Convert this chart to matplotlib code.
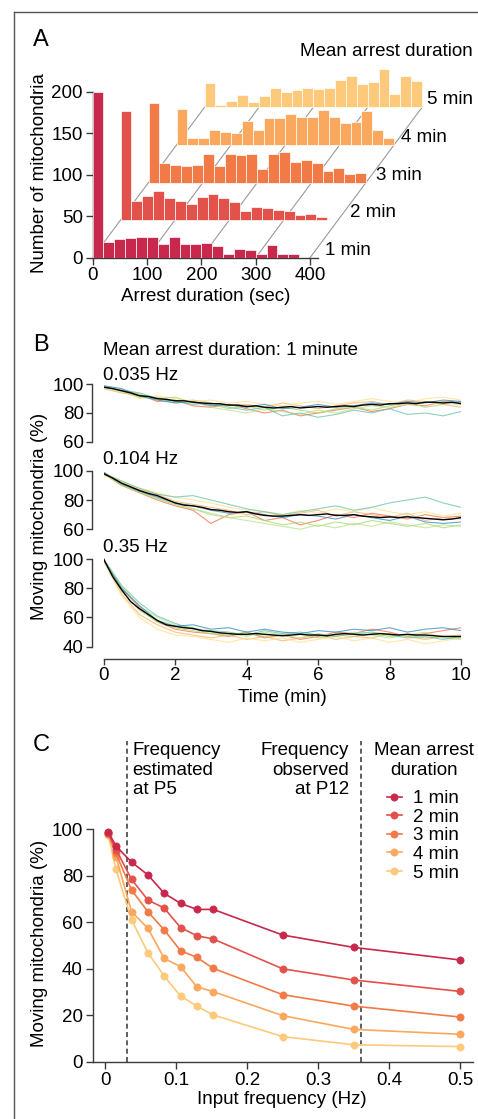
import numpy as np
import matplotlib
matplotlib.use("Agg")
import matplotlib.pyplot as plt
from matplotlib.lines import Line2D

plt.rcParams['font.family'] = ['Liberation Sans', 'DejaVu Sans']
plt.rcParams['font.size'] = 13.5

# ---------------- data ----------------
# A: arrest duration histograms (20 s bins)
bin_width = 20
rows = ['1 min', '2 min', '3 min', '4 min', '5 min']
hist_1 = [200, 19, 22, 24, 25, 25, 16, 25, 17, 17, 18, 14, 5, 11, 9, 5, 15, 4, 5]
hist_2 = [132, 23, 29.5, 34.5, 26.5, 22.5, 19.3, 27.7, 30.9, 26.5, 21.5, 11.2, 16, 15, 12, 11, 5.6, 7.2, 3.6]
hist_3 = [96.4, 24, 21.7, 20, 21.7, 34.3, 20.5, 34.5, 33.3, 34, 16.3, 34, 36.5, 25.3, 27.7, 24, 13.8, 17.7, 10, 11.2]
hist_4 = [43.4, 8.6, 8.6, 18.3, 15.7, 14, 28.7, 18.3, 32.7, 32.7, 36.8, 34, 34, 42.2, 34, 26.3, 27.7, 40.6, 18.3, 7.8]
hist_5 = [29, 2.4, 7.6, 14.5, 6.4, 13.3, 23.7, 18, 20.9, 23.7, 22.1, 23.7, 32.5, 38.2, 28.5, 30.1, 45.8, 15.7, 38.2, 31.3]

# B: moving fraction over time, mean (black) every 0.25 min
mean_035 = [98, 97, 95.5, 94, 92, 91.5, 90, 89.5, 88.5, 88.5, 87.5, 87, 86.5, 86.5, 85.5, 85.5, 84.5, 85, 84, 83.5,
            84, 84.5, 83.5, 84, 84.5, 84, 84.5, 85, 84.5, 85.5, 86, 85.5, 86.5, 86.5, 87, 86.5, 87.5, 87.5, 87, 87.5, 86.5]
mean_104 = [98, 95, 91.5, 89, 86.5, 84.5, 83, 80.5, 78, 76.5, 76, 75, 73.5, 73, 72, 71.5, 72, 70.5, 69.5, 69,
            69, 69.5, 70, 69.5, 70, 70.5, 69.5, 69.5, 70, 69, 68.5, 68, 68.5, 68, 68.5, 68, 67.5, 67, 66.5, 67, 68]
mean_35 = [100, 88, 79, 71, 66, 62, 58, 55, 54, 53, 52.5, 51, 50.5, 49.5, 49, 48.5, 48.5, 49, 48.5, 48,
           47.5, 48, 48.5, 48, 48, 47.5, 48.5, 49, 48.5, 48, 48.5, 49, 48.5, 48, 48.5, 48, 48, 47.5, 47, 47, 47]

# single runs, every 0.5 min
runs_035 = [
    [98, 96, 93, 88, 89, 85, 84, 86, 83, 80, 82, 78, 80, 82, 84, 81, 83, 86, 85, 88, 87],
    [97, 94, 92, 91, 88, 89, 87, 85, 86, 84, 87, 85, 83, 85, 87, 88, 86, 89, 88, 86, 84],
    [99, 96, 90, 92, 90, 88, 89, 87, 88, 86, 85, 87, 88, 86, 88, 90, 88, 87, 90, 91, 89],
    [98, 95, 91, 90, 91, 87, 86, 83, 85, 82, 84, 82, 80, 83, 84, 82, 85, 87, 84, 86, 88],
    [98, 95, 93, 90, 87, 88, 84, 82, 80, 83, 81, 79, 82, 80, 83, 85, 84, 86, 88, 87, 86],
    [98, 96, 94, 90, 88, 86, 87, 84, 82, 84, 78, 80, 77, 79, 82, 80, 83, 79, 80, 78, 81],
    [99, 97, 92, 89, 87, 88, 85, 86, 84, 86, 83, 84, 86, 84, 85, 87, 86, 88, 87, 89, 88],
]
runs_104 = [
    [98, 90, 85, 80, 76, 73, 64, 70, 72, 66, 68, 63, 66, 70, 68, 71, 69, 67, 70, 68, 69],
    [97, 92, 87, 84, 79, 77, 75, 73, 70, 72, 69, 71, 73, 69, 72, 70, 68, 71, 66, 68, 67],
    [99, 93, 88, 85, 82, 80, 78, 75, 73, 72, 70, 73, 71, 74, 72, 75, 72, 70, 72, 69, 71],
    [98, 90, 85, 81, 77, 74, 70, 68, 69, 66, 63, 65, 62, 65, 63, 66, 64, 62, 64, 61, 63],
    [98, 92, 86, 81, 77, 74, 71, 68, 66, 64, 62, 60, 63, 61, 64, 62, 65, 63, 61, 63, 62],
    [98, 93, 88, 84, 82, 83, 80, 77, 74, 72, 70, 72, 74, 76, 73, 75, 78, 80, 82, 78, 75],
    [99, 91, 86, 82, 78, 76, 73, 71, 72, 70, 68, 70, 69, 67, 70, 68, 66, 69, 65, 64, 65],
]
runs_35 = [
    [99, 80, 67, 57, 52, 50, 49, 47, 50, 46, 48, 45, 47, 50, 49, 52, 50, 47, 49, 51, 53],
    [100, 76, 62, 55, 50, 48, 46, 48, 45, 47, 44, 46, 48, 45, 47, 46, 49, 47, 45, 47, 48],
    [98, 75, 60, 52, 48, 47, 45, 43, 46, 44, 46, 43, 45, 47, 44, 46, 43, 45, 42, 44, 46],
    [99, 78, 65, 57, 53, 51, 49, 48, 50, 47, 48, 49, 46, 48, 47, 49, 47, 48, 46, 47, 46],
    [99, 81, 68, 60, 55, 53, 50, 49, 47, 50, 48, 46, 49, 47, 50, 48, 46, 48, 50, 46, 45],
    [100, 82, 70, 61, 56, 52, 51, 50, 48, 51, 49, 50, 48, 47, 49, 50, 48, 46, 47, 45, 47],
    [99, 80, 68, 58, 54, 55, 52, 53, 50, 52, 50, 49, 51, 50, 52, 51, 53, 50, 52, 53, 51],
]
run_colors = ['#f46d43', '#fdae61', '#fee08b', '#a6d96a', '#b8e186', '#66c2a5', '#3288bd']

# C: moving fraction vs input frequency
freq = [0.004, 0.015, 0.037, 0.06, 0.083, 0.106, 0.129, 0.152, 0.25, 0.35, 0.5]
moving_1 = [98.8, 92.7, 85.8, 80.3, 72.4, 68.1, 65.5, 65.5, 54.5, 49.2, 43.8]
moving_2 = [98.5, 91.2, 78.4, 69.5, 66.1, 57.7, 54.2, 52.8, 40.0, 35.2, 30.3]
moving_3 = [98.2, 89.5, 73.8, 64.5, 56.7, 47.8, 44.9, 40.2, 28.9, 24.0, 19.3]
moving_4 = [97.8, 88.1, 64.5, 57.4, 44.5, 40.9, 32.3, 30.2, 19.9, 14.0, 11.9]
moving_5 = [97.5, 82.7, 61.0, 46.9, 36.9, 28.3, 24.0, 20.2, 10.9, 7.4, 6.6]
p5_freq = 0.03
p12_freq = 0.36

colors = ['#c8284c', '#e2514a', '#f27a47', '#f9a85e', '#fdc97a']
spine_c = '#3a3a3a'

W, H = 478, 1119
fig = plt.figure(figsize=(W / 100, H / 100), dpi=100)


def ax_px(l, t, r, b):
    return fig.add_axes([l / W, 1 - b / H, (r - l) / W, (b - t) / H])


def style(ax, length=5):
    for s in ['top', 'right']:
        ax.spines[s].set_visible(False)
    for s in ['left', 'bottom']:
        ax.spines[s].set_color(spine_c)
        ax.spines[s].set_linewidth(1.0)
    ax.tick_params(direction='out', length=length, width=1.0, color=spine_c, pad=2, labelsize=13.5)


# frame of the figure cut-out
fig.add_artist(Line2D([13.7 / W, 13.7 / W], [0, 1 - 12.3 / H], color='#555555', lw=1))
fig.add_artist(Line2D([13.7 / W, 1], [1 - 12.3 / H, 1 - 12.3 / H], color='#555555', lw=1))

# ---------------- A ----------------
axA = ax_px(92.5, 62.7, 92.5 + 700 * 0.5438, 257.7)
style(axA)
dx, dy = 51.5, 45.3
hists = [hist_1, hist_2, hist_3, hist_4, hist_5]
for t in [0, 100, 200, 300, 400]:
    axA.plot([t, t + 4 * dx], [0, 4 * dy], color='#9a9a9a', lw=0.8, zorder=1)
for k, h in enumerate(hists):
    left = np.arange(len(h)) * bin_width
    axA.bar(left + k * dx, h, width=bin_width, bottom=k * dy, align='edge',
            color=colors[k], edgecolor=(1, 1, 1, 0.7), linewidth=0.7, zorder=10 - k)
    axA.text(427 + k * 47, 9 + k * dy, rows[k], ha='left', va='center')
axA.set_xlim(0, 700)
axA.set_ylim(0, 235)
axA.spines['left'].set_bounds(0, 200)
axA.spines['bottom'].set_bounds(0, 415)
axA.set_xticks([0, 100, 200, 300, 400])
axA.set_yticks([0, 50, 100, 150, 200])
fig.text(472.7 / W, 1 - 51 / H, 'Mean arrest duration', ha='right', va='center')
fig.text(206 / W, 1 - 296.7 / H, 'Arrest duration (sec)', ha='center', va='center')
fig.text(40 / W, 1 - 173 / H, 'Number of mitochondria', rotation=90, ha='center', va='center')
fig.text(33 / W, 1 - 40 / H, 'A', fontsize=17, ha='left', va='center')

# ---------------- B ----------------
t_mean = np.linspace(0, 10, 41)
t_run = np.linspace(0, 10, 21)
panels = [
    ('0.035 Hz', mean_035, runs_035, (55, 102), [60, 80, 100], 381.4, 448.9, 375.5),
    ('0.104 Hz', mean_104, runs_104, (52, 102), [60, 80, 100], 467.8, 541.0, 460),
    ('0.35 Hz', mean_35, runs_35, (31.6, 102), [40, 60, 80, 100], 556.1, 659.0, 548),
]
for i, (lab, mean, runs, ylim, yt, top, bot, lab_y) in enumerate(panels):
    ax = ax_px(103.7, top, 461, bot)
    style(ax, length=4)
    for r, c in zip(runs, run_colors):
        ax.plot(t_run, r, color=c, lw=0.8, alpha=0.75)
    ax.plot(t_mean, mean, color='black', lw=1.0)
    ax.set_xlim(0, 10)
    ax.set_ylim(*ylim)
    ax.set_yticks(yt)
    ax.spines['left'].set_bounds(yt[0], yt[-1])
    ax.spines['left'].set_position(('outward', 8.2))
    fig.text(102.7 / W, 1 - lab_y / H, lab, ha='left', va='center')
    if i < 2:
        ax.spines['bottom'].set_visible(False)
        ax.set_xticks([])
    else:
        ax.set_xticks([0, 2, 4, 6, 8, 10])
        ax.spines['bottom'].set_bounds(0, 10)
fig.text(102.7 / W, 1 - 350 / H, 'Mean arrest duration: 1 minute', ha='left', va='center')
fig.text(282 / W, 1 - 697 / H, 'Time (min)', ha='center', va='center')
fig.text(40 / W, 1 - 516 / H, 'Moving mitochondria (%)', rotation=90, ha='center', va='center')
fig.text(33 / W, 1 - 345.5 / H, 'B', fontsize=17, ha='left', va='center')

# ---------------- C ----------------
axC = ax_px(92.7, 740.5, 472.8, 1062)
style(axC)
series = [moving_1, moving_2, moving_3, moving_4, moving_5]
handles = []
for k in range(4, -1, -1):
    ln, = axC.plot(freq, series[k], color=colors[k], lw=1.2, marker='o', ms=5.2,
                   mec=colors[k], mew=0.5, zorder=5 - k)
    handles.insert(0, ln)
axC.axvline(p5_freq, color='#444444', lw=1.2, ls=(0, (3, 2)), zorder=0)
axC.axvline(p12_freq, color='#444444', lw=1.2, ls=(0, (3, 2)), zorder=0)
axC.set_xlim(-0.0178, 0.518)
axC.set_ylim(0, 138)
axC.spines['left'].set_bounds(0, 100)
axC.set_yticks([0, 20, 40, 60, 80, 100])
axC.set_xticks([0, 0.1, 0.2, 0.3, 0.4, 0.5])
axC.set_xticklabels(['0', '0.1', '0.2', '0.3', '0.4', '0.5'])
fig.text(132.7 / W, 1 - 742 / H, 'Frequency\nestimated\nat P5', ha='left', va='top')
fig.text(349.3 / W, 1 - 742 / H, 'Frequency\nobserved\nat P12', ha='right', va='top', multialignment='right')
fig.text(424 / W, 1 - 742 / H, 'Mean arrest\nduration', ha='center', va='top', multialignment='center')
axC.legend(handles, rows, loc='upper left', bbox_to_anchor=(386.7 / W, 1 - 790 / H),
           bbox_transform=fig.transFigure, frameon=False, borderpad=0, borderaxespad=0,
           handlelength=0.8, handletextpad=0.6, labelspacing=0.08, fontsize=13.5)
fig.text(282 / W, 1 - 1099 / H, 'Input frequency (Hz)', ha='center', va='center')
fig.text(40 / W, 1 - 943 / H, 'Moving mitochondria (%)', rotation=90, ha='center', va='center')
fig.text(33 / W, 1 - 745 / H, 'C', fontsize=17, ha='left', va='center')

fig.savefig('out.png', dpi=100)
